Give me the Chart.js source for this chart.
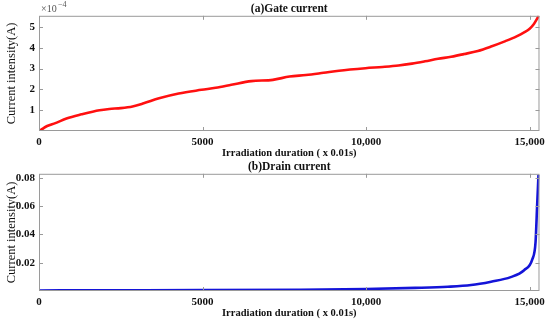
<!DOCTYPE html>
<html><head><meta charset="utf-8">
<script src="https://cdn.jsdelivr.net/npm/chart.js@4.4.1/dist/chart.umd.min.js"></script>
<style>
html,body{margin:0;padding:0;background:#fff;}
#wrap{position:relative;width:550px;height:320px;}
.c{position:absolute;left:0;width:550px;height:160px;}
</style></head><body>
<div id="wrap">
<div class="c" style="top:0"><canvas id="gate" width="550" height="160"></canvas></div>
<div class="c" style="top:160px"><canvas id="drain" width="550" height="160"></canvas></div>
</div>
<script>
// ---- data ----
const gateDuration = [0,60,150,250,500,840,1300,1850,2150,2500,2860,3200,3670,4270,4970,5400,5880,6490,7150,7660,8160,8700,9170,9980,10500,10990,11400,11800,12200,12600,13000,13415,13800,14220,14600,14830,15000,15130,15220,15280];
const gateCurrentE4 = [0,0.05,0.15,0.24,0.38,0.6,0.8,1.0,1.06,1.1,1.18,1.33,1.57,1.8,1.98,2.08,2.22,2.4,2.46,2.62,2.69,2.8,2.9,3.02,3.08,3.15,3.24,3.35,3.47,3.57,3.7,3.85,4.05,4.3,4.55,4.74,4.92,5.15,5.38,5.55];
const drainDuration = [0,2000,5000,8000,10000,11500,12500,13210,13820,14420,14830,15080,15180,15230,15270];
const drainCurrent = [0.0004,0.0005,0.0006,0.0009,0.0014,0.0022,0.003,0.0042,0.0066,0.0098,0.0147,0.0224,0.0346,0.0614,0.082];
const xTicks = [0,5000,10000,15000];
const gateYTicks = [1,2,3,4,5];
const drainYTicks = [0.02,0.04,0.06,0.08];
const titles = ['(a)Gate current','(b)Drain current'];
const xTitle = 'Irradiation duration ( x 0.01s)';
const yTitle = 'Current intensity(A)';

const SERIF = '"Liberation Serif","DejaVu Serif",serif';
const toPts = (xs, ys) => xs.map((x,i)=>({x, y: ys[i]}));
const fmtX = v => v < 10000 ? String(v) : v.toLocaleString('en-US');

const boxPlugin = {
  id:'box',
  afterDraw(chart, args, opts){
    const {ctx, chartArea:a, scales:{x,y}} = chart;
    ctx.save();
    ctx.strokeStyle = '#9a9a9a';
    ctx.lineWidth = 1;
    ctx.strokeRect(a.left+0.5, a.top+0.5, a.right-a.left-1, a.bottom-a.top-1);
    const L = 4;
    ctx.beginPath();
    x.ticks.forEach(t=>{
      if (t.value===0) return;
      const px = Math.round(x.getPixelForValue(t.value))+0.5;
      ctx.moveTo(px,a.bottom); ctx.lineTo(px,a.bottom-L);
      ctx.moveTo(px,a.top); ctx.lineTo(px,a.top+L);
    });
    y.ticks.forEach(t=>{
      if (t.value===0) return;
      const py = Math.round(y.getPixelForValue(t.value))+0.5;
      ctx.moveTo(a.left,py); ctx.lineTo(a.left+L,py);
      ctx.moveTo(a.right,py); ctx.lineTo(a.right-L,py);
    });
    ctx.stroke();
    if (opts.exponent){
      ctx.fillStyle = '#555';
      ctx.font = '10px '+SERIF;
      ctx.textBaseline = 'alphabetic';
      ctx.fillText('\u00d710', a.left+2, a.top-4);
      ctx.font = '8px '+SERIF;
      ctx.fillText('\u22124', a.left+19, a.top-9);
    }
    ctx.restore();
  }
};

function makeChart(id, xs, ys, color, yMax, yFmt, title, exponent, padTop, yTickList){
  return new Chart(document.getElementById(id), {
    type:'line',
    data:{datasets:[{data:toPts(xs,ys), borderColor:color, borderWidth:2.6, pointRadius:0, cubicInterpolationMode:'monotone', fill:false}]},
    plugins:[boxPlugin],
    options:{
      responsive:false, animation:false, events:[],
      layout:{padding:{left:4,right:7,top:0,bottom:0}},
      plugins:{
        legend:{display:false}, tooltip:{enabled:false},
        title:{display:true, fullSize:false, text:title, color:'#111', font:{family:SERIF, size:11.5, weight:'bold'}, padding:{top:padTop, bottom:0}},
        box:{exponent}
      },
      scales:{
        x:{type:'linear', min:0, max:15300,
           afterBuildTicks(s){ s.ticks = xTicks.map(v=>({value:v})); },
           afterFit(s){ s.height = 29; },
           grid:{display:false, tickLength:0}, border:{display:false},
           ticks:{autoSkip:false, maxRotation:0, minRotation:0, color:'#111', padding:5,
                  font:{family:SERIF, size:11, weight:'bold'}, callback:v=>fmtX(v)},
           title:{display:true, text:xTitle, color:'#111', font:{family:SERIF, size:10.5, weight:'bold'}, padding:{top:0,bottom:0}}
        },
        y:{type:'linear', min:0, max:yMax,
           afterBuildTicks(s){ s.ticks = yTickList.map(v=>({value:v})); },
           afterFit(s){ s.width = 35; },
           grid:{display:false, tickLength:0}, border:{display:false},
           ticks:{autoSkip:false, color:'#111', padding:4,
                  font:{family:SERIF, size:11, weight:'bold'}, callback:v=>yFmt(v)},
           title:{display:true, text:yTitle, color:'#111', font:{family:SERIF, size:12.5}, padding:{top:0,bottom:0}}
        }
      }
    }
  });
}

makeChart('gate', gateDuration, gateCurrentE4, '#ff1010', 5.54, v=>String(v), titles[0], true, 2, gateYTicks);
makeChart('drain', drainDuration, drainCurrent, '#1414d8', 0.0828, v=>v.toFixed(2), titles[1], false, 0, drainYTicks);
</script>
</body></html>
